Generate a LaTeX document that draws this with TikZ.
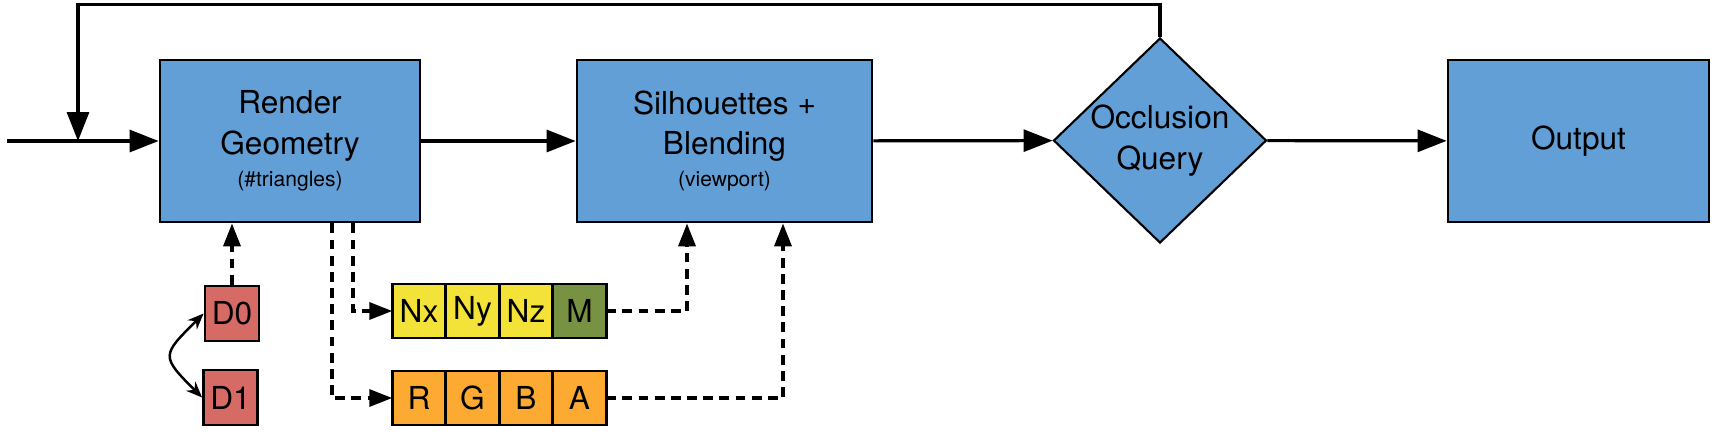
\documentclass[tikz,border=0pt]{standalone}
\usepackage{fontspec}
\setmainfont{TeX Gyre Heros}
\usetikzlibrary{positioning,shapes.geometric,arrows.meta}
\definecolor{blockblue}{RGB}{99,159,215}
\definecolor{depthred}{RGB}{214,106,101}
\definecolor{normalyellow}{RGB}{243,226,55}
\definecolor{maskgreen}{RGB}{118,146,66}
\definecolor{colororange}{RGB}{252,170,50}

\tikzset{
    box/.style={draw, line width=0.8pt, align=center, inner sep=0pt,
        font=\fontsize{9}{11.6}\selectfont},
    stage/.style={box, fill=blockblue, minimum height=16.2mm},
    decision/.style={box, diamond, line width=0.6pt, fill=blockblue,
        minimum width=21.3mm, minimum height=20.5mm, aspect=1.04},
    buffer/.style={box, fill=depthred, minimum width=5.4mm, minimum height=5.5mm},
    cell/.style={box, outer sep=0pt, minimum width=5.35mm, minimum height=5.4mm},
    normal/.style={cell, fill=normalyellow},
    channel/.style={cell, fill=colororange},
    link/.style={-{Triangle[length=2.9mm, width=2.2mm]}, line width=0.9pt},
    datalink/.style={-{Triangle[length=2.3mm, width=1.7mm]}, line width=1pt,
        dash pattern=on 2.8pt off 1.8pt},
    swaplink/.style={{Stealth[length=1.6mm, width=1.3mm]}-{Stealth[length=1.6mm, width=1.3mm]},
        line width=0.7pt}
}

\begin{document}
\begin{tikzpicture}
    \useasboundingbox (0,0) rectangle (17.16,-4.41);
    \node[stage, minimum width=26mm] (render) at (2.90,-1.41)
        {Render\\Geometry\\[-2.5pt]{\fontsize{6}{8}\selectfont(\#triangles)}};
    \node[stage, minimum width=29.5mm] (silh) at (7.245,-1.41)
        {Silhouettes +\\Blending\\[-2.5pt]{\fontsize{6}{8}\selectfont(viewport)}};
    \node[decision] (query) at (11.60,-1.405) {Occlusion\\Query};
    \node[stage, minimum width=26.1mm] (output) at (15.785,-1.41) {Output};

    \node[buffer] (d0) at (2.32,-3.135) {D0};
    \node[buffer] (d1) at (2.305,-3.975) {D1};

    \node[normal] (nx) at (4.19,-3.11) {Nx};
    \node[normal, right=0pt of nx] (ny) {Ny};
    \node[normal, right=0pt of ny] (nz) {Nz};
    \node[cell, fill=maskgreen, right=0pt of nz] (m) {M};
    \node[channel] (r) at (4.19,-3.98) {R};
    \node[channel, right=0pt of r] (g) {G};
    \node[channel, right=0pt of g] (b) {B};
    \node[channel, right=0pt of b] (a) {A};

    \coordinate (in) at (0.07,-1.41);
    \coordinate (join) at (0.78,-1.41);
    \coordinate (loop) at (0.78,-0.045);

    \draw[link] (in) -- (render);
    \draw[link] (render) -- (silh);
    \draw[link] (silh) -- (query);
    \draw[link] (query) -- (output);
    \draw[link] (query.north) |- (loop) -- (join);

    \draw[datalink] (d0) -- (d0 |- render.south);
    \draw[swaplink] (d0.west) to[out=225, in=135, looseness=1.8] (d1.west);
    \draw[datalink] ([xshift=6.3mm]render.south) |- (nx);
    \draw[datalink] ([xshift=4.2mm]render.south) |- (r);
    \draw[datalink] (m) -| ([xshift=-3.75mm]silh.south);
    \draw[datalink] (a) -| ([xshift=5.85mm]silh.south);
\end{tikzpicture}
\end{document}
